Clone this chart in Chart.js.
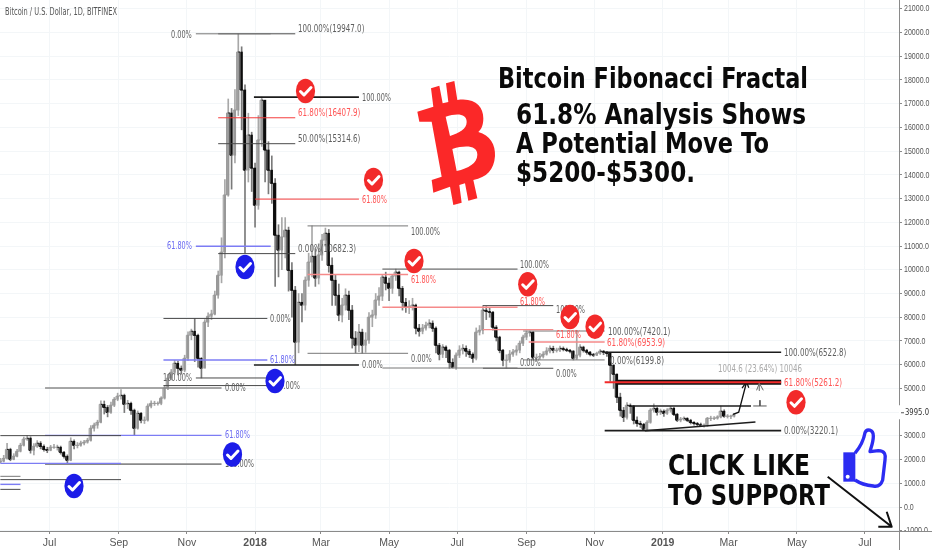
<!DOCTYPE html>
<html><head><meta charset="utf-8">
<style>html,body{margin:0;padding:0;background:#fff;overflow:hidden}canvas{display:block}</style>
<script src="https://cdn.jsdelivr.net/npm/chart.js@4"></script></head>
<body><canvas id="c" width="932" height="550"></canvas>
<script>
const firstCandleDay=-44, candleStepDays=3, firstOpen=1880;
const closes=[1930,2050,2430,2010,2140,2350,2600,2860,2900,2390,
2560,2690,2560,2430,2390,2520,2520,2520,2310,2140,
1970,2770,2600,2600,2690,2730,2810,3320,3450,3570,
4330,4200,3990,4290,4540,4670,4710,4330,4370,4080,
3320,3950,3660,3660,4250,4370,4370,4370,4590,5010,
5430,5680,6060,5850,5770,6270,7240,7410,7240,6270,
5850,7790,8040,8130,8930,9770,10740,13150,16610,14830,
16730,19180,17580,14200,15680,14290,12720,15470,17150,15050,
14200,13650,11460,10830,11380,11670,9980,9140,6950,8630,
8510,9560,10320,10570,9650,10620,11250,11540,10190,9560,
8930,8090,8510,8930,8300,7120,6820,7370,6820,7030,
8000,8090,8720,8890,9690,9440,9220,9730,9900,9220,
8630,8420,8460,8510,7540,7410,7540,7660,7750,7540,
6820,6440,6740,6610,6100,5890,6400,6610,6690,6570,
6440,6270,7370,7450,8300,8250,8210,7580,7160,6610,
6190,6190,6440,6530,6610,6900,7160,7330,7370,6310,
6310,6350,6440,6570,6690,6610,6610,6690,6650,6610,
6570,6270,6400,6740,6610,6530,6440,6400,6480,6570,
6530,6480,5980,5600,4630,4080,3780,4290,4250,3660,
3530,3490,3280,3570,4080,4160,3990,4040,3950,4080,
4160,3910,3660,3700,3740,3660,3570,3530,3490,3450,
3450,3740,3740,3740,3790,4040,3830,3830,3830,3910];
const highs=[2050,2180,2690,2480,2250,2430,2690,2950,3020,2960,
2680,2800,2760,2620,2520,2600,2640,2610,2570,2350,
2200,2920,2830,2720,2780,2810,2900,3430,3540,3660,
4480,4470,4280,4420,4620,4800,4950,4760,4500,4420,
4130,4050,3990,3800,4350,4480,4460,4430,4650,5120,
5590,5800,6180,6150,5950,6400,7380,7500,7950,7290,
6300,7900,8190,8300,9100,9950,11350,13800,17200,16800,
17600,19947,19400,17800,16600,15800,14500,16500,17280,17100,
15400,14800,13850,11900,12200,12200,11800,10300,9300,9000,
9000,9700,10700,11850,10900,11100,11500,11760,11700,10500,
9800,9400,8800,9200,9100,8500,7400,7700,7500,7350,
8200,8300,9000,9250,9800,9900,9650,9800,10030,9950,
9300,8800,8700,8800,8550,7700,7700,7800,7900,7850,
7600,6900,6850,6800,6650,6250,6500,6800,6850,6800,
6650,6500,7550,7650,8490,8450,8400,8250,7650,7200,
6650,6420,6600,6650,6800,7000,7250,7420,7420,7400,
6450,6480,6550,6720,6800,6780,6700,6780,6750,6700,
6650,6600,7450,6850,6780,6650,6560,6480,6530,6640,
6600,6550,6490,6000,5620,4800,4200,4400,4350,4280,
3800,3620,3530,3640,4150,4350,4200,4130,4100,4150,
4240,4200,3950,3780,3800,3770,3700,3600,3570,3540,
3510,3780,3830,3810,3850,4260,4100,3900,3880,3950];
const lows=[1860,1900,2020,1950,1990,2110,2320,2570,2810,2270,
2200,2510,2450,2350,2290,2370,2470,2400,2230,2060,
1850,1950,2450,2490,2560,2620,2690,2780,3200,3320,
3550,3920,3800,3950,4230,4480,4550,3980,4150,3900,
3020,3280,3550,3520,3620,4180,4280,4290,4310,4550,
4950,5360,5600,5570,5600,5700,6180,7050,6130,5900,
5440,5900,7600,7900,8100,8800,9450,10500,13100,13400,
14500,16500,15900,10700,13700,13300,11800,12550,15200,13700,
13200,12800,9300,9700,10000,10500,9100,8000,6000,6500,
7800,8300,9300,9700,9300,9400,10400,11000,9900,8500,
8500,7850,7800,8300,7900,6700,6500,6550,6480,6520,
6900,7600,7950,8500,8700,9150,8700,9000,9550,8900,
8300,8200,8150,8300,7300,7200,7300,7450,7550,7400,
6500,6200,6300,6300,5850,5860,5800,6300,6450,6350,
6300,6100,6200,7250,7300,7900,8000,7450,7000,6500,
5950,5850,6100,6350,6400,6500,6800,7050,7200,6200,
6200,6220,6280,6400,6500,6500,6530,6550,6580,6550,
6500,6200,6220,6330,6530,6440,6370,6340,6380,6430,
6420,6350,5300,5000,4400,3830,3600,3700,3950,3500,
3400,3350,3220,3250,3530,4000,3870,3900,3820,3900,
4000,3850,3600,3590,3650,3600,3500,3450,3430,3400,
3370,3400,3640,3680,3700,3760,3780,3750,3720,3790];

const xTickDays=[0,62,123,184,243,304,365,427,488,549,608,669,730];
const xTickLabels=['Jul','Sep','Nov','2018','Mar','May','Jul','Sep','Nov','2019','Mar','May','Jul'];
const yTickValues=[-1000,0,1000,2000,3000,4000,5000,6000,7000,8000,9000,10000,11000,12000,13000,14000,15000,16000,17000,18000,19000,20000,21000];

const levelStart=[131,151,151,151,151,131,183,184,183,231,231,231,298,298,298,388,388,388,424,429,424,497,507,497,497,521,102,102,131,102,-4,-44,-4,-44,-4,-44,-44,-44,-44];
const levelEnd=[198,220,220,220,220,198,277,277,277,321,321,321,419,419,419,451,451,451,497,497,497,655,655,655,655,628,195,195,195,195,154,64,154,64,154,64,-26,-26,-26];
const levelPrice=[19947,19947,16408,15315,10682,10990,17280,12980,5990,11850,9800,6480,10030,8420,5860,8490,7480,5850,7420,6954,6200,6523,5261,5261,3220,4260,7950,6200,5440,5120,5020,3010,3020,1840,1810,1155,1295,955,745];
const levelKind=['gray','dark','red','dark','dark','blue','black','red','black','gray','pink','gray','dark','pink','gray','dark','pink','dark','gray','pink','gray','black','thick','red2','black','black','dark','blue','dark','dark','gray2','dark','blue','blue','gray2','dark','gray','blue','dark'];

const trendDays=[533,632], trendPrices=[3220,3585];
const arrowDays=[612,617,624], arrowPrices=[3910,4000,5260];
const arrowHeadDays=[620,624,626], arrowHeadPrices=[5010,5280,5030];
const measureHeadDays=[633,635.5,639], measureHeadPrices=[4920,5220,4920];
const measureStemDays=[635.5,635.5], measureStemPrices=[5220,4900];
const measureBaseDays=[630,642], measureBasePrices=[4260,4260];
const measureFootDays=[636,636], measureFootPrices=[4500,4260];

const kinds={gray:['#777',1],gray2:['#8a8a8a',1.6],dark:['#4a4a4a',1],black:['#1c1c1c',1.6],red:['#f43c3c',1],red2:['#f22a2a',2],pink:['#f58a8a',1.4],blue:['#7c7cf4',1.4],thick:['#111',5]};

const days=closes.map((_,i)=>firstCandleDay+candleStepDays*i);
const opens=closes.map((_,i)=>i?closes[i-1]:firstOpen);
const isDown=i=>closes[i]<opens[i];
const UP='#989898',DOWN='#0c0c0c';

const datasets=[];
levelPrice.forEach((p,i)=>{const k=kinds[levelKind[i]];
 datasets.push({type:'line',data:[{x:levelStart[i],y:p},{x:levelEnd[i],y:p}],borderColor:k[0],borderWidth:k[1],pointRadius:0,order:levelKind[i]==='red2'?1:2});});
function path(xs,ys,color,w,order){datasets.push({type:'line',data:xs.map((x,i)=>({x,y:ys[i]})),borderColor:color,borderWidth:w,pointRadius:0,order:order||1,tension:0});}
path(trendDays,trendPrices,'#1c1c1c',1.5);
path(arrowDays,arrowPrices,'#111',1.3);
path(arrowHeadDays,arrowHeadPrices,'#111',1.3);
path(measureHeadDays,measureHeadPrices,'#666',1);
path(measureStemDays,measureStemPrices,'#888',1);
path(measureBaseDays,measureBasePrices,'#555',1);
path(measureFootDays,measureFootPrices,'#555',1);
datasets.push({type:'line',data:days.map((x,i)=>({x,y:closes[i]})),stepped:'middle',borderWidth:1,pointRadius:0,order:3,
 borderColor:UP,segment:{borderColor:c=>c.p1.parsed.y<c.p0.parsed.y?DOWN:UP}});
datasets.push({type:'bar',data:days.map((x,i)=>({x,y:[opens[i],closes[i]]})),barThickness:1.6,grouped:false,order:4,
 backgroundColor:c=>isDown(c.dataIndex)?DOWN:UP});
datasets.push({type:'bar',data:days.map((x,i)=>({x,y:[lows[i],highs[i]]})),barThickness:1,grouped:false,order:5,
 backgroundColor:c=>isDown(c.dataIndex)?'#7a7a7a':'#a8a8a8'});

const labels=[['0.00%',171,35,'g'],['100.00%(19947.0)',298,29.5,'g'],['100.00%',362,98,'g'],['61.80%(16407.9)',298,113.5,'r'],['50.00%(15314.6)',298,139.5,'g'],['61.80%',362,200,'r'],['100.00%',411,232,'g'],['61.80%',167,246.5,'b'],['0.00%(10682.3)',298,249,'g'],['61.80%',411,280,'r'],['100.00%',520,265,'g'],['61.80%',520,302,'r'],['100.00%',556,310.5,'g'],['61.80%',556,335,'r'],['100.00%(7420.1)',608,332,'g'],['61.80%(6953.9)',607,343,'r'],['0.00%(6199.8)',610,361,'g'],['100.00%(6522.8)',784,353,'g'],['61.80%(5261.2)',784,383,'r'],['0.00%(3220.1)',784,431.7,'g'],['0.00%',520,363.5,'g'],['0.00%',556,374,'g'],['0.00%',411,359,'g'],['0.00%',362,365.7,'g'],['0.00%',270,319.5,'g'],['61.80%',270,360.7,'b'],['100.00%',163,378.3,'g'],['100.00%',271,386.7,'g'],['0.00%',225,388.3,'g'],['61.80%',225,435.7,'b'],['100.00%',225,464.7,'g']];
const labelColors={g:'#5e5e5e',r:'#f55',b:'#6a6af2'};
const redBadges=[[305.5,91],[373.5,180],[414,261],[527.7,284.3],[570,317],[595,326.7],[796,402.3]];
const blueBadges=[[245,267],[275,381],[232.5,454.5],[74,486]];
const bigText=[['Bitcoin Fibonacci Fractal',498,88,310,29],['61.8% Analysis Shows',516,124,290,29],['A Potential Move To',516,152.7,253,29],['$5200-$5300.',516,181.7,179,29],['CLICK LIKE',668,475,142,28],['TO SUPPORT',668,505,162,28]];

function txt(ctx,s,x,y,font,color,maxW,base){ctx.font=font;ctx.fillStyle=color;ctx.textAlign='left';ctx.textBaseline=base||'middle';ctx.fillText(s,x,y,maxW);}
function badge(ctx,cx,cy,color){ctx.fillStyle=color;ctx.beginPath();ctx.ellipse(cx,cy,9.6,12.2,0,0,Math.PI*2);ctx.fill();
 ctx.strokeStyle='#fff';ctx.lineWidth=3;ctx.lineCap='round';ctx.lineJoin='round';ctx.beginPath();ctx.moveTo(cx-5,cy+.5);ctx.lineTo(cx-1.5,cy+4);ctx.lineTo(cx+5.5,cy-3.5);ctx.stroke();ctx.lineCap='butt';}
function bitcoin(ctx){ctx.save();ctx.translate(400,70);ctx.scale(1/3,1/3);ctx.beginPath();
 ctx.moveTo(52,125);ctx.lineTo(100,110);ctx.lineTo(93,55);ctx.lineTo(118,47);ctx.lineTo(128,100);ctx.lineTo(145,96);ctx.lineTo(138,40);ctx.lineTo(163,33);ctx.lineTo(172,90);
 ctx.bezierCurveTo(225,82,250,110,250,145);ctx.bezierCurveTo(250,165,245,178,235,186);ctx.bezierCurveTo(270,195,287,225,285,258);ctx.bezierCurveTo(282,300,260,322,220,330);
 ctx.lineTo(232,385);ctx.lineTo(205,392);ctx.lineTo(195,340);ctx.lineTo(178,345);ctx.lineTo(185,398);ctx.lineTo(160,405);ctx.lineTo(150,350);ctx.lineTo(100,368);ctx.lineTo(95,330);ctx.lineTo(125,320);ctx.lineTo(95,155);ctx.lineTo(58,155);ctx.closePath();
 ctx.moveTo(137,140);ctx.bezierCurveTo(170,130,200,130,200,156);ctx.bezierCurveTo(200,178,178,188,150,198);ctx.closePath();
 ctx.moveTo(157,237);ctx.bezierCurveTo(200,224,232,228,232,254);ctx.bezierCurveTo(232,280,205,294,170,303);ctx.closePath();
 ctx.fillStyle='#fb2828';ctx.fill('evenodd');ctx.restore();}
function thumb(ctx){ctx.save();ctx.translate(660,420);ctx.scale(1/3,1/3);ctx.fillStyle='#2c2cf2';ctx.strokeStyle='#2c2cf2';ctx.lineWidth=10;ctx.lineJoin='round';
 ctx.fillRect(550,97,36,88);ctx.beginPath();ctx.moveTo(585,100);ctx.bezierCurveTo(605,75,612,55,615,38);ctx.bezierCurveTo(620,25,640,28,640,48);ctx.bezierCurveTo(640,68,632,85,630,95);ctx.lineTo(655,92);ctx.bezierCurveTo(675,92,678,105,675,120);ctx.lineTo(668,180);ctx.bezierCurveTo(662,198,650,200,640,198);ctx.bezierCurveTo(620,196,600,190,585,180);ctx.stroke();
 ctx.fillStyle='#fff';ctx.beginPath();ctx.arc(563,170,6,0,Math.PI*2);ctx.fill();ctx.restore();}

const overlay={id:'overlay',afterDraw(ch){const ctx=ch.ctx,a=ch.chartArea,y=ch.scales.y;ctx.save();
 ctx.fillStyle='#fff';ctx.fillRect(a.right+1,a.bottom,932-a.right,550-a.bottom);
 ctx.strokeStyle='#8a8a8a';ctx.lineWidth=1;ctx.beginPath();ctx.moveTo(0,a.bottom+.5);ctx.lineTo(932,a.bottom+.5);ctx.moveTo(a.right+.5,0);ctx.lineTo(a.right+.5,550);ctx.stroke();
 const py=y.getPixelForValue(3995);ctx.fillStyle='#fff';ctx.fillRect(a.right,py-7,33,14);
 ctx.strokeStyle='#555';ctx.beginPath();ctx.moveTo(a.right+2,py+.5);ctx.lineTo(a.right+5,py+.5);ctx.stroke();
 txt(ctx,'3995.0',905,py,'9.5px "DejaVu Sans"','#333',24);
 txt(ctx,'Bitcoin / U.S. Dollar, 1D, BITFINEX',5,12,'10px "DejaVu Sans"','#555',112);
 labels.forEach(l=>txt(ctx,l[0],l[1],l[2],'10px "DejaVu Sans"',labelColors[l[3]],l[0].length*4.15));
 txt(ctx,'1004.6 (23.64%) 10046',718,369,'10px "DejaVu Sans"','#aaa',84);
 bitcoin(ctx);thumb(ctx);
 redBadges.forEach(b=>badge(ctx,b[0],b[1],'#f22a2a'));
 blueBadges.forEach(b=>badge(ctx,b[0],b[1],'#1c1ce8'));
 bigText.forEach(t=>txt(ctx,t[0],t[1],t[2],'bold '+t[4]+'px "DejaVu Sans"','#0a0a0a',t[3],'alphabetic'));
 ctx.strokeStyle='#111';ctx.lineWidth=2;ctx.beginPath();ctx.moveTo(827.7,476.7);ctx.lineTo(891.7,526.7);ctx.moveTo(886.7,511.7);ctx.lineTo(891.7,526.7);ctx.lineTo(878.3,526.7);ctx.stroke();
 ctx.restore();}};

function squeezeLabels(s){if(s._squeezed)return;s._squeezed=true;const draw=s.drawLabels;
 s.drawLabels=function(area){const c=this.ctx,x0=904,r=this.right;c.save();c.translate(x0,0);c.scale(0.74,1);c.translate(-x0,0);this.right=1000;draw.call(this,area);this.right=r;c.restore();};}

new Chart(document.getElementById('c'),{type:'bar',data:{datasets},plugins:[overlay],options:{
 responsive:false,animation:false,events:[],layout:{padding:0},
 plugins:{legend:{display:false},tooltip:{enabled:false}},
 scales:{
  x:{type:'linear',offset:false,min:-44.33,max:760.5,
   afterBuildTicks:s=>{s.ticks=xTickDays.map(v=>({value:v}));},
   afterFit:s=>{s.height=19;s.paddingLeft=0;s.paddingRight=0;},
   grid:{offset:false,color:'#f3f6f8',tickColor:'#8a8a8a',tickLength:3,drawTicks:true},border:{display:false},
   ticks:{autoSkip:false,maxRotation:0,padding:3,color:'#555',
    font:c=>({family:'"Liberation Sans Narrow","Liberation Sans"',size:10.5,weight:String(c.tick&&c.tick.label||'').startsWith('20')?'bold':'normal'}),
    callback:v=>xTickLabels[xTickDays.indexOf(v)]}},
  y:{type:'linear',position:'right',min:-1010,max:21372,
   afterBuildTicks:s=>{s.ticks=yTickValues.map(v=>({value:v}));},
   afterFit:s=>{s.width=33;s.paddingTop=0;s.paddingBottom=0;squeezeLabels(s);},
   grid:{color:'#f3f6f8',tickColor:'#8a8a8a',tickLength:3},border:{display:false},
   ticks:{autoSkip:false,padding:2,color:'#555',font:{family:'"Liberation Sans"',size:9.5},callback:v=>v.toFixed(1)}}
 }}});
</script></body></html>
